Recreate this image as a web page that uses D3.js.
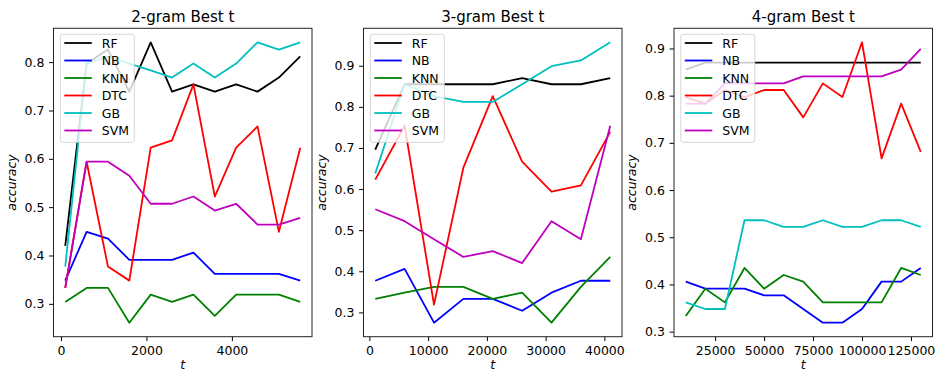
<!DOCTYPE html>
<html>
<head>
<meta charset="utf-8">
<script src="https://cdnjs.cloudflare.com/ajax/libs/d3/7.8.5/d3.min.js"></script>
<style>
  body { margin: 0; background: #fff; }
  svg { display: block; }
</style>
</head>
<body>
<div class="draw"></div>
<script>
const names = ["RF", "NB", "KNN", "DTC", "GB", "SVM"];
const colors = ["#000000", "#0000ff", "#008000", "#ff0000", "#00bfbf", "#bf00bf"];

// 2-gram
const t2 = [100, 600, 1100, 1600, 2100, 2600, 3100, 3600, 4100, 4600, 5100, 5600];
const rf2 = [0.420, 0.797, 0.826, 0.739, 0.841, 0.739, 0.754, 0.739, 0.754, 0.739, 0.768, 0.812];
const nb2 = [0.348, 0.449, 0.435, 0.391, 0.391, 0.391, 0.406, 0.362, 0.362, 0.362, 0.362, 0.348];
const knn2 = [0.304, 0.333, 0.333, 0.261, 0.319, 0.304, 0.319, 0.275, 0.319, 0.319, 0.319, 0.304];
const dtc2 = [0.333, 0.594, 0.377, 0.348, 0.623, 0.638, 0.754, 0.522, 0.623, 0.667, 0.449, 0.623];
const gb2 = [0.377, 0.797, 0.812, 0.797, 0.783, 0.768, 0.797, 0.768, 0.797, 0.841, 0.826, 0.841];
const svm2 = [0.333, 0.594, 0.594, 0.565, 0.507, 0.507, 0.522, 0.493, 0.507, 0.464, 0.464, 0.478];

// 3-gram
const t3 = [1000, 6000, 11000, 16000, 21000, 26000, 31000, 36000, 41000];
const rf3 = [0.696, 0.855, 0.855, 0.855, 0.855, 0.870, 0.855, 0.855, 0.870];
const nb3 = [0.377, 0.406, 0.275, 0.333, 0.333, 0.304, 0.348, 0.377, 0.377];
const knn3 = [0.333, 0.348, 0.362, 0.362, 0.333, 0.348, 0.275, 0.362, 0.435];
const dtc3 = [0.623, 0.754, 0.319, 0.652, 0.826, 0.667, 0.594, 0.609, 0.739];
const gb3 = [0.638, 0.855, 0.826, 0.812, 0.812, 0.855, 0.899, 0.913, 0.957];
const svm3 = [0.551, 0.522, 0.478, 0.435, 0.449, 0.420, 0.522, 0.478, 0.754];

// 4-gram
const t4 = [10000, 20000, 30000, 40000, 50000, 60000, 70000, 80000, 90000, 100000, 110000, 120000, 130000];
const rf4 = [0.855, 0.870, 0.870, 0.870, 0.870, 0.870, 0.870, 0.870, 0.870, 0.870, 0.870, 0.870, 0.870];
const nb4 = [0.406, 0.391, 0.391, 0.391, 0.377, 0.377, 0.348, 0.319, 0.319, 0.348, 0.406, 0.406, 0.435];
const knn4 = [0.333, 0.391, 0.362, 0.435, 0.391, 0.420, 0.406, 0.362, 0.362, 0.362, 0.362, 0.435, 0.420];
const dtc4 = [0.797, 0.783, 0.812, 0.797, 0.812, 0.812, 0.754, 0.826, 0.797, 0.913, 0.667, 0.783, 0.681];
const gb4 = [0.362, 0.348, 0.348, 0.536, 0.536, 0.522, 0.522, 0.536, 0.522, 0.522, 0.536, 0.536, 0.522];
const svm4 = [0.783, 0.783, 0.826, 0.826, 0.826, 0.826, 0.841, 0.841, 0.841, 0.841, 0.841, 0.855, 0.899];

// tick labels
const xTicks2 = [0, 2000, 4000];
const xTicks3 = [0, 10000, 20000, 30000, 40000];
const xTicks4 = [25000, 50000, 75000, 100000, 125000];
const yTicks2 = [0.3, 0.4, 0.5, 0.6, 0.7, 0.8];
const yTicks34 = [0.3, 0.4, 0.5, 0.6, 0.7, 0.8, 0.9];

const panels = [
  { title: "2-gram Best t", t: t2, series: [rf2, nb2, knn2, dtc2, gb2, svm2], xTicks: xTicks2, yTicks: yTicks2 },
  { title: "3-gram Best t", t: t3, series: [rf3, nb3, knn3, dtc3, gb3, svm3], xTicks: xTicks3, yTicks: yTicks34 },
  { title: "4-gram Best t", t: t4, series: [rf4, nb4, knn4, dtc4, gb4, svm4], xTicks: xTicks4, yTicks: yTicks34 }
];

const font = "DejaVu Sans, sans-serif";
const lefts = [53.5, 363.5, 674];
const marginTop = 28.3;
const graphWidth = 258.5;
const graphHeight = 308.4;

const svg = d3.select(".draw")
  .append("svg")
  .attr("width", 937)
  .attr("height", 371);

// matplotlib style 5% margins
function padded(ext) {
  const m = (ext[1] - ext[0]) * 0.05;
  return [ext[0] - m, ext[1] + m];
}

panels.forEach((p, i) => {
  const graph = svg.append("g")
    .attr("transform", `translate(${lefts[i]}, ${marginTop})`);

  const x = d3.scaleLinear()
    .domain(padded(d3.extent(p.t)))
    .range([0, graphWidth]);
  const y = d3.scaleLinear()
    .domain(padded(d3.extent(p.series.flat())))
    .range([graphHeight, 0]);

  const line = d3.line()
    .x((d, j) => x(p.t[j]))
    .y(d => y(d));

  //lines
  p.series.forEach((s, k) => {
    graph.append("path")
      .datum(s)
      .attr("fill", "none")
      .attr("stroke", colors[k])
      .attr("stroke-width", 1.8)
      .attr("stroke-linejoin", "round")
      .attr("d", line);
  });

  //axes
  const xAxisGroup = graph.append("g")
    .attr("transform", `translate(0, ${graphHeight})`)
    .call(d3.axisBottom(x).tickValues(p.xTicks).tickFormat(d3.format("d"))
      .tickSize(4.4).tickSizeOuter(0).tickPadding(5.5));
  const yAxisGroup = graph.append("g")
    .call(d3.axisLeft(y).tickValues(p.yTicks).tickFormat(d3.format(".1f"))
      .tickSize(4.4).tickSizeOuter(0).tickPadding(4.6));

  [xAxisGroup, yAxisGroup].forEach(g => {
    g.select(".domain").remove();
    g.selectAll("line").attr("stroke", "#000").attr("stroke-width", 1);
    g.selectAll("text")
      .attr("fill", "#000")
      .style("font-family", font)
      .style("font-size", "12.5px");
  });

  //frame
  graph.append("rect")
    .attr("width", graphWidth)
    .attr("height", graphHeight)
    .attr("fill", "none")
    .attr("stroke", "#222")
    .attr("stroke-width", 1);

  //title and labels
  graph.append("text")
    .attr("x", graphWidth / 2)
    .attr("y", -6)
    .attr("text-anchor", "middle")
    .style("font-family", font)
    .style("font-size", "15px")
    .text(p.title);

  graph.append("text")
    .attr("x", graphWidth / 2)
    .attr("y", graphHeight + 32)
    .attr("text-anchor", "middle")
    .style("font-family", font)
    .style("font-size", "12.5px")
    .style("font-style", "italic")
    .text("t");

  graph.append("text")
    .attr("transform", `translate(-38, ${graphHeight / 2}) rotate(-90)`)
    .attr("text-anchor", "middle")
    .style("font-family", font)
    .style("font-size", "12.5px")
    .style("font-style", "italic")
    .text("accuracy");

  //legend
  const legend = graph.append("g")
    .attr("transform", "translate(6.8, 6)");
  legend.append("rect")
    .attr("width", 74)
    .attr("height", 108)
    .attr("rx", 2.5)
    .attr("fill", "#fff")
    .attr("fill-opacity", 0.8)
    .attr("stroke", "#ccc")
    .attr("stroke-opacity", 0.8);
  names.forEach((n, k) => {
    const row = legend.append("g")
      .attr("transform", `translate(0, ${8.7 + k * 17.5})`);
    row.append("line")
      .attr("x1", 4).attr("x2", 31.5)
      .attr("stroke", colors[k])
      .attr("stroke-width", 1.8);
    row.append("text")
      .attr("x", 41.4)
      .attr("dy", "0.36em")
      .style("font-family", font)
      .style("font-size", "12.5px")
      .text(n);
  });
});
</script>
</body>
</html>
